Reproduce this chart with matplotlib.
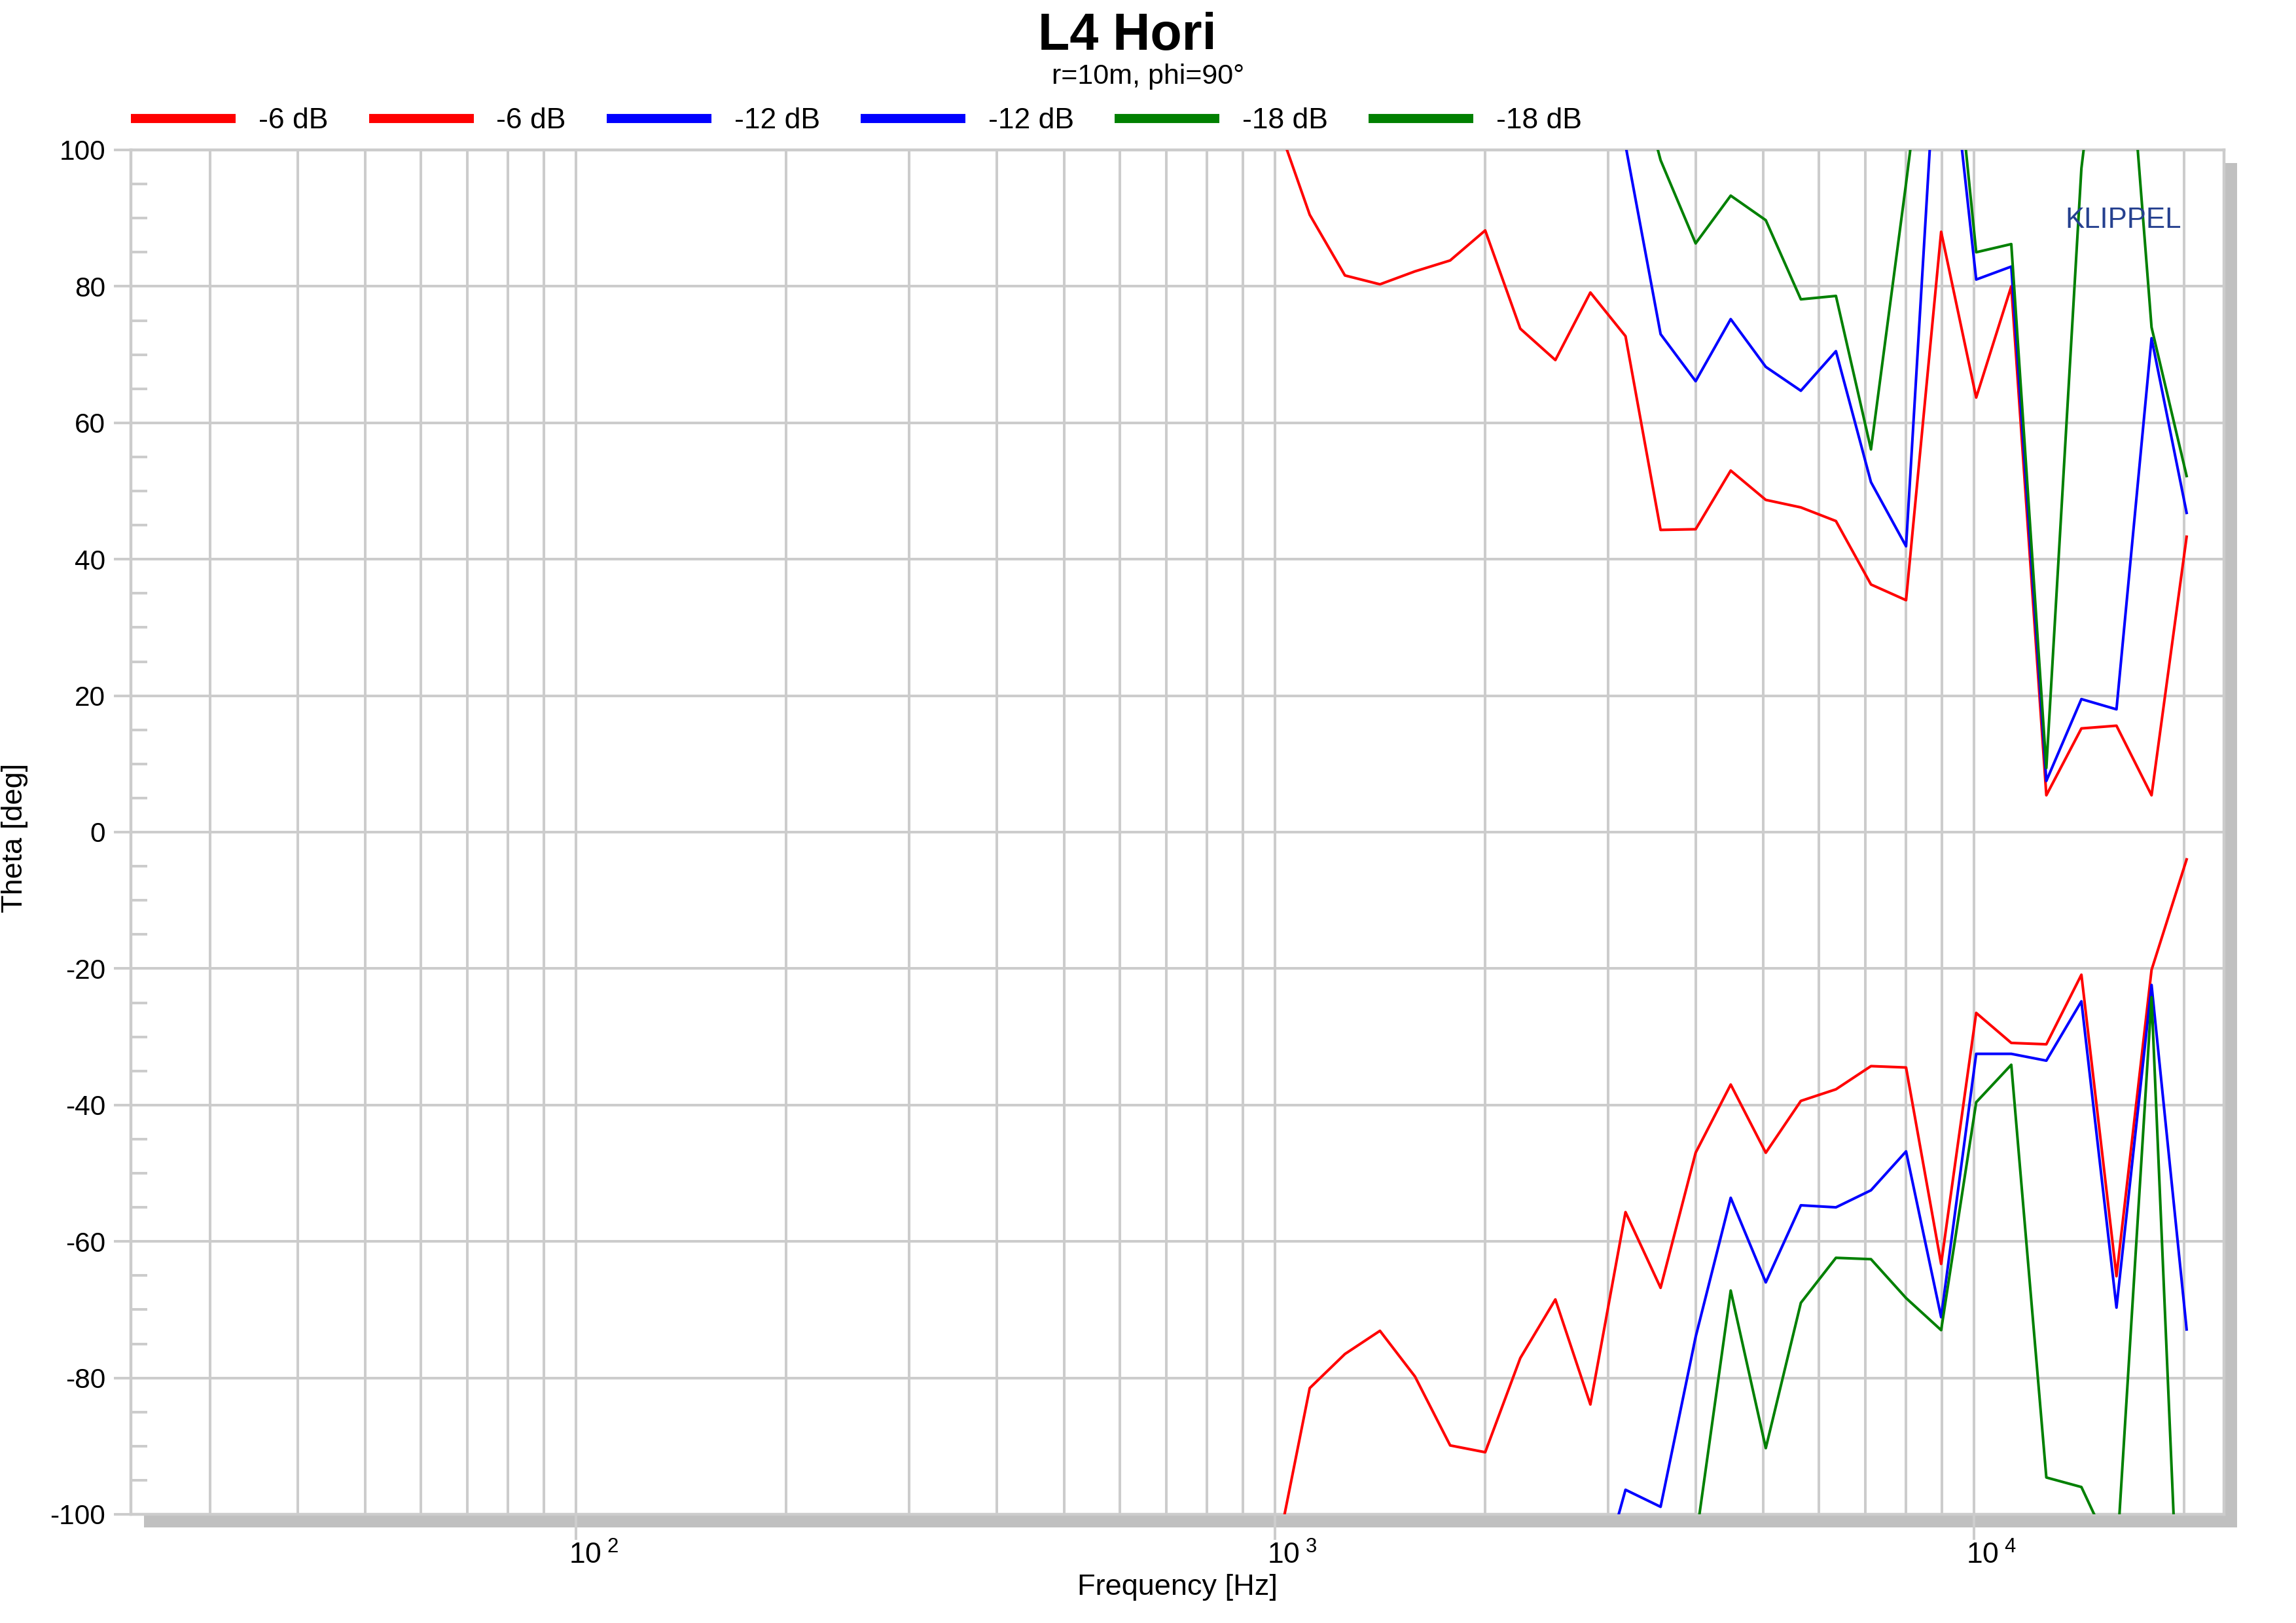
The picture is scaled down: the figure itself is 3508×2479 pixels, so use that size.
import matplotlib
matplotlib.use("Agg")
import numpy as np
import matplotlib.pyplot as plt
from matplotlib.patches import Rectangle
from matplotlib.ticker import FixedLocator, MultipleLocator, FixedFormatter
import matplotlib.transforms as mtransforms

# ---------------- data ----------------
freq_hz = [1000, 1122, 1260, 1414, 1587, 1782, 2000, 2245, 2520, 2828, 3175,
           3564, 4000, 4490, 5040, 5657, 6350, 7127, 8000, 8980, 10079,
           11314, 12699, 14254, 16000, 17959, 20159]

nan = np.nan
red_upper = [105.1, 90.5, 81.6, 80.3, 82.2, 83.8, 88.2, 73.8, 69.2, 79.1, 72.7,
             44.3, 44.4, 53.0, 48.7, 47.6, 45.6, 36.3, 34.0, 88.0, 63.7,
             80.0, 5.4, 15.2, 15.6, 5.4, 43.3]
red_lower = [-107.2, -81.5, -76.5, -73.1, -79.8, -89.9, -90.9, -77.1, -68.5, -83.9, -55.7,
             -66.8, -47.0, -37.0, -47.0, -39.4, -37.7, -34.3, -34.5, -63.3, -26.5,
             -30.9, -31.1, -20.9, -65.1, -20.2, -4.0]
blue_upper = [nan, nan, nan, nan, nan, nan, nan, nan, nan, 125.0, 100.7,
              73.0, 66.1, 75.2, 68.2, 64.7, 70.5, 51.3, 41.9, 128.0, 81.0,
              82.9, 7.5, 19.5, 18.0, 72.4, 46.8]
blue_lower = [nan, nan, nan, nan, nan, nan, nan, nan, nan, -115.0, -96.4,
              -98.9, -74.0, -53.6, -66.0, -54.7, -55.0, -52.5, -46.8, -71.1, -32.5,
              -32.5, -33.5, -24.8, -69.7, -22.4, -72.9]
green_upper = [nan, nan, nan, nan, nan, nan, nan, nan, nan, nan, 118.0,
               98.5, 86.3, 93.3, 89.7, 78.1, 78.6, 56.1, 95.1, 136.0, 85.0,
               86.2, 9.4, 97.3, 140.0, 74.0, 52.2]
green_lower = [nan, nan, nan, nan, nan, nan, nan, nan, nan, nan, nan,
               nan, -104.0, -67.2, -90.3, -69.0, -62.4, -62.6, -68.3, -73.0, -39.6,
               -34.1, -94.6, -96.0, -107.0, -24.2, -145.0]

series = [
    ("-6 dB", red_upper, "#ff0000"),
    ("-6 dB", red_lower, "#ff0000"),
    ("-12 dB", blue_upper, "#0000ff"),
    ("-12 dB", blue_lower, "#0000ff"),
    ("-18 dB", green_upper, "#008000"),
    ("-18 dB", green_lower, "#008000"),
]

x_major = [100, 1000, 10000]
x_major_labels = [r"$\mathregular{10^{\ 2}}$", r"$\mathregular{10^{\ 3}}$", r"$\mathregular{10^{\ 4}}$"]
x_minor = [30, 40, 50, 60, 70, 80, 90, 200, 300, 400, 500, 600, 700, 800, 900,
           2000, 3000, 4000, 5000, 6000, 7000, 8000, 9000, 20000]
y_major = [-100, -80, -60, -40, -20, 0, 20, 40, 60, 80, 100]

# ---------------- style ----------------
plt.rcParams["font.family"] = ["Liberation Sans", "DejaVu Sans"]
plt.rcParams["mathtext.fontset"] = "custom"
plt.rcParams["mathtext.rm"] = "Liberation Sans"
plt.rcParams["mathtext.it"] = "Liberation Sans:italic"
plt.rcParams["mathtext.bf"] = "Liberation Sans:bold"
plt.rcParams["axes.unicode_minus"] = False

W, H, DPI = 3508, 2479, 100
fig = plt.figure(figsize=(W / DPI, H / DPI), dpi=DPI)
fig.patch.set_facecolor("white")

def fx(px):
    return px / W

def fy(py):
    return 1 - py / H

L, R, T, B = 200, 3398, 229, 2313
GRID = "#cccccc"

# drop shadow behind the plot area
shadow = Rectangle((fx(L + 20), fy(B + 20)), (R - L) / W, (B - T) / H,
                   transform=fig.transFigure, facecolor="#c0c0c0",
                   edgecolor="none", zorder=-1)
fig.add_artist(shadow)

ax = fig.add_axes([fx(L), fy(B), (R - L) / W, (B - T) / H])
ax.set_facecolor("white")

lines = []
for label, vals, col in series:
    ln, = ax.plot(freq_hz, vals, color=col, lw=2.9, label=label, zorder=3)
    lines.append(ln)

ax.set_xscale("log")
ax.set_xlim(23.1, 22800)
ax.set_ylim(-100, 100)

ax.xaxis.set_major_locator(FixedLocator(x_major))
ax.xaxis.set_major_formatter(FixedFormatter(x_major_labels))
ax.xaxis.set_minor_locator(FixedLocator(x_minor))
ax.xaxis.set_minor_formatter(FixedFormatter([""] * len(x_minor)))
ax.yaxis.set_major_locator(FixedLocator(y_major))
ax.yaxis.set_minor_locator(MultipleLocator(5))

ax.grid(which="both", axis="x", color=GRID, lw=2.9, zorder=1)
ax.grid(which="major", axis="y", color=GRID, lw=2.9, zorder=1)
ax.set_axisbelow(True)

ax.tick_params(axis="x", which="major", direction="out", length=28, width=2.9,
               color=GRID, pad=2, labelsize=32)
ax.tick_params(axis="x", which="minor", length=0)
ax.tick_params(axis="y", which="major", direction="out", length=19, width=2.9,
               color=GRID, pad=9, labelsize=30.5)
ax.tick_params(axis="y", which="minor", direction="in", length=18, width=2.9,
               color=GRID)

for s in ax.spines.values():
    s.set_color(GRID)
    s.set_linewidth(3.2)
    s.set_zorder(2)

offset = mtransforms.ScaledTranslation(0.27, 0, fig.dpi_scale_trans)
for lab in ax.get_xticklabels():
    lab.set_transform(lab.get_transform() + offset)

ax.set_xlabel("Frequency [Hz]", fontsize=32.5)
ax.xaxis.set_label_coords(0.5, (B - 2404) / (B - T))
ax.set_ylabel("Theta [deg]", fontsize=32.5)
ax.yaxis.set_label_coords((43 - L) / (R - L), (B - 1280) / (B - T))

ax.text((3333 - L) / (R - L), (B - 348) / (B - T), "KLIPPEL", transform=ax.transAxes,
        ha="right", va="baseline", fontsize=31.5, color="#25408f", zorder=4)

fig.text(fx(1722), fy(76), "L4 Hori", ha="center", va="baseline",
         fontsize=57, fontweight="bold")
fig.text(fx(1754), fy(128), "r=10m, phi=90°", ha="center", va="baseline",
         fontsize=31)

fs_leg = 32
px_em = fs_leg * DPI / 72
leg = fig.legend(lines, [s[0] for s in series], loc="center left",
                 bbox_to_anchor=(fx(200), fy(185)), ncol=6, frameon=False,
                 borderpad=0, borderaxespad=0, fontsize=fs_leg,
                 handlelength=160 / px_em, handletextpad=35 / px_em,
                 columnspacing=62 / px_em)
for h in leg.legend_handles:
    h.set_linewidth(10)
    h.set_solid_capstyle("butt")

fig.savefig("out.png", dpi=DPI)
